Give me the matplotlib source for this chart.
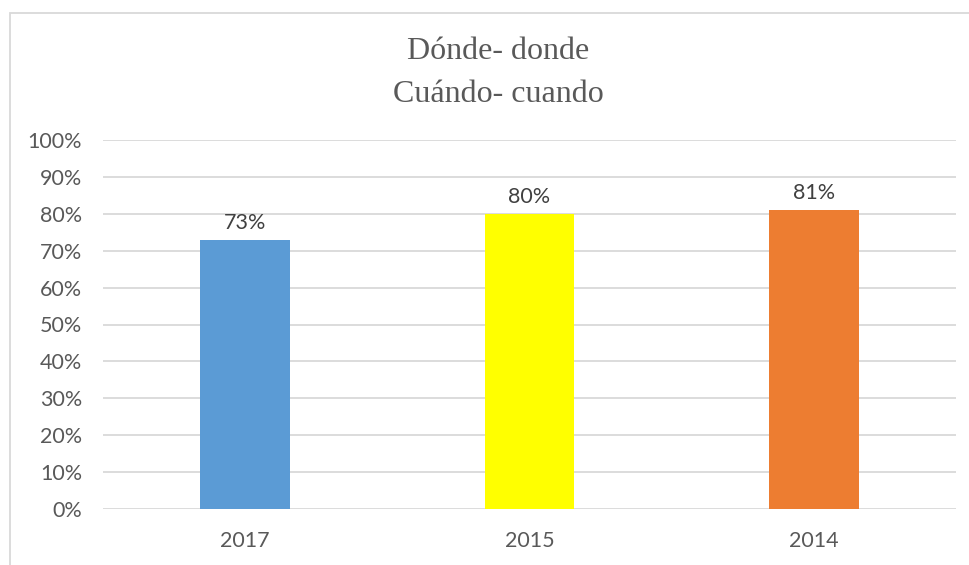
import matplotlib
matplotlib.use('Agg')
from matplotlib import pyplot as plt
from matplotlib.patches import Rectangle
from matplotlib.ticker import PercentFormatter

years = ['2017', '2015', '2014']
values = [0.73, 0.80, 0.81]
colors = ['#5B9BD5', '#FFFF00', '#ED7D31']
labels = ['73%', '80%', '81%']

plt.rcParams['font.family'] = ['Lato', 'DejaVu Sans']

fig = plt.figure(figsize=(9.7, 5.65), dpi=100)
ax = fig.add_axes([103/970, 1 - 509/565, (956 - 103)/970, (509 - 140)/565])

x = range(len(years))
bars = ax.bar(x, values, width=0.315, color=colors, zorder=3)
for b, lab in zip(bars, labels):
    ax.annotate(lab, (b.get_x() + b.get_width()/2, b.get_height()),
                xytext=(0, 5), textcoords='offset points', ha='center', va='bottom',
                fontsize=15.5, color='#404040')

ax.set_xlim(-0.5, 2.5)
ax.set_ylim(0, 1)
ax.set_yticks([i/10 for i in range(11)])
ax.yaxis.set_major_formatter(PercentFormatter(1.0, decimals=0))
ax.set_xticks(list(x))
ax.set_xticklabels(years)
ax.tick_params(axis='both', length=0, labelsize=15.5, labelcolor='#595959')
ax.tick_params(axis='y', pad=15)
ax.tick_params(axis='x', pad=16)
ax.grid(axis='y', color='#D9D9D9', linewidth=1.3, zorder=0)
for s in ax.spines.values():
    s.set_visible(False)

# title in serif
fig.text(498/970, 1 - 73/565, 'Dónde- donde\nCuándo- cuando', ha='center', va='center',
         fontsize=23, color='#595959', family='Liberation Serif', linespacing=1.6)

# chart border
fig.patches.append(Rectangle((10/970, -0.1), 1.2, 0.1 + (1 - 13/565), transform=fig.transFigure,
                             fill=False, edgecolor='#D9D9D9', linewidth=1.3))

fig.savefig('out.png', dpi=100)
